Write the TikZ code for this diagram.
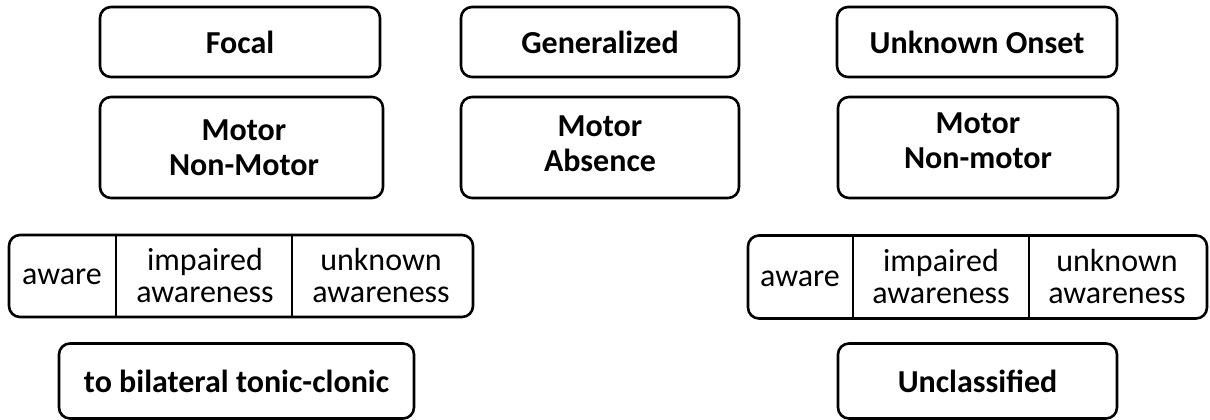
\documentclass[tikz,border=0pt]{standalone}
\usepackage{fontspec}
\setmainfont{Carlito}
\begin{document}
\begin{tikzpicture}[x=1pt,y=-1pt,
  box/.style={draw, line width=2.6pt, rounded corners=11pt, inner sep=0pt, align=center},
  headtxt/.style={font=\fontsize{32}{35}\selectfont\bfseries, align=center, inner sep=0pt},
  celltxt/.style={font=\fontsize{32}{32}\selectfont, align=center, inner sep=0pt},
  divider/.style={line width=2.2pt}]
\useasboundingbox (0,0) rectangle (1210,420);
% top row
\node[box, headtxt, minimum width=280pt, minimum height=70pt] (focal) at (240,42) {Focal};
\node[box, headtxt, minimum width=278pt, minimum height=70pt] (gen) at (600,42) {Generalized};
\node[box, headtxt, minimum width=280pt, minimum height=70pt] (unk) at (977,42) {Unknown Onset};
% second row
\node[box, minimum width=283pt, minimum height=101pt] (fmot) at (241.5,147.5) {};
\node[headtxt] (fmott) at (244,148) {Motor\\Non-Motor};
\node[box, minimum width=278pt, minimum height=101pt] (gmot) at (600,147.5) {};
\node[headtxt] (gmott) at (600,144) {Motor\\Absence};
\node[box, minimum width=280pt, minimum height=101pt] (umot) at (978,147.5) {};
\node[headtxt] (umott) at (978,141) {Motor\\Non-motor};
% third row left
\node[box, minimum width=464pt, minimum height=82pt] (fawb) at (241,276) {};
\node[celltxt] (faw1) at (62,277) {aware};
\node[celltxt] (faw2) at (205,276) {impaired\\awareness};
\node[celltxt] (faw3) at (381,276) {unknown\\awareness};
\draw[divider] (116,0 |- fawb.north) -- (116,0 |- fawb.south);
\draw[divider] (292,0 |- fawb.north) -- (292,0 |- fawb.south);
% third row right
\node[box, minimum width=459pt, minimum height=83pt] (uawb) at (977.5,277) {};
\node[celltxt] (uaw1) at (800,279) {aware};
\node[celltxt] (uaw2) at (941,277) {impaired\\awareness};
\node[celltxt] (uaw3) at (1117,277) {unknown\\awareness};
\draw[divider] (853,0 |- uawb.north) -- (853,0 |- uawb.south);
\draw[divider] (1029,0 |- uawb.north) -- (1029,0 |- uawb.south);
% bottom row
\node[box, headtxt, minimum width=355pt, minimum height=75pt] (bil) at (236.5,381) {to bilateral tonic-clonic};
\node[box, headtxt, minimum width=279pt, minimum height=75pt] (uncl) at (977.5,381) {Unclassified};
\end{tikzpicture}
\end{document}
